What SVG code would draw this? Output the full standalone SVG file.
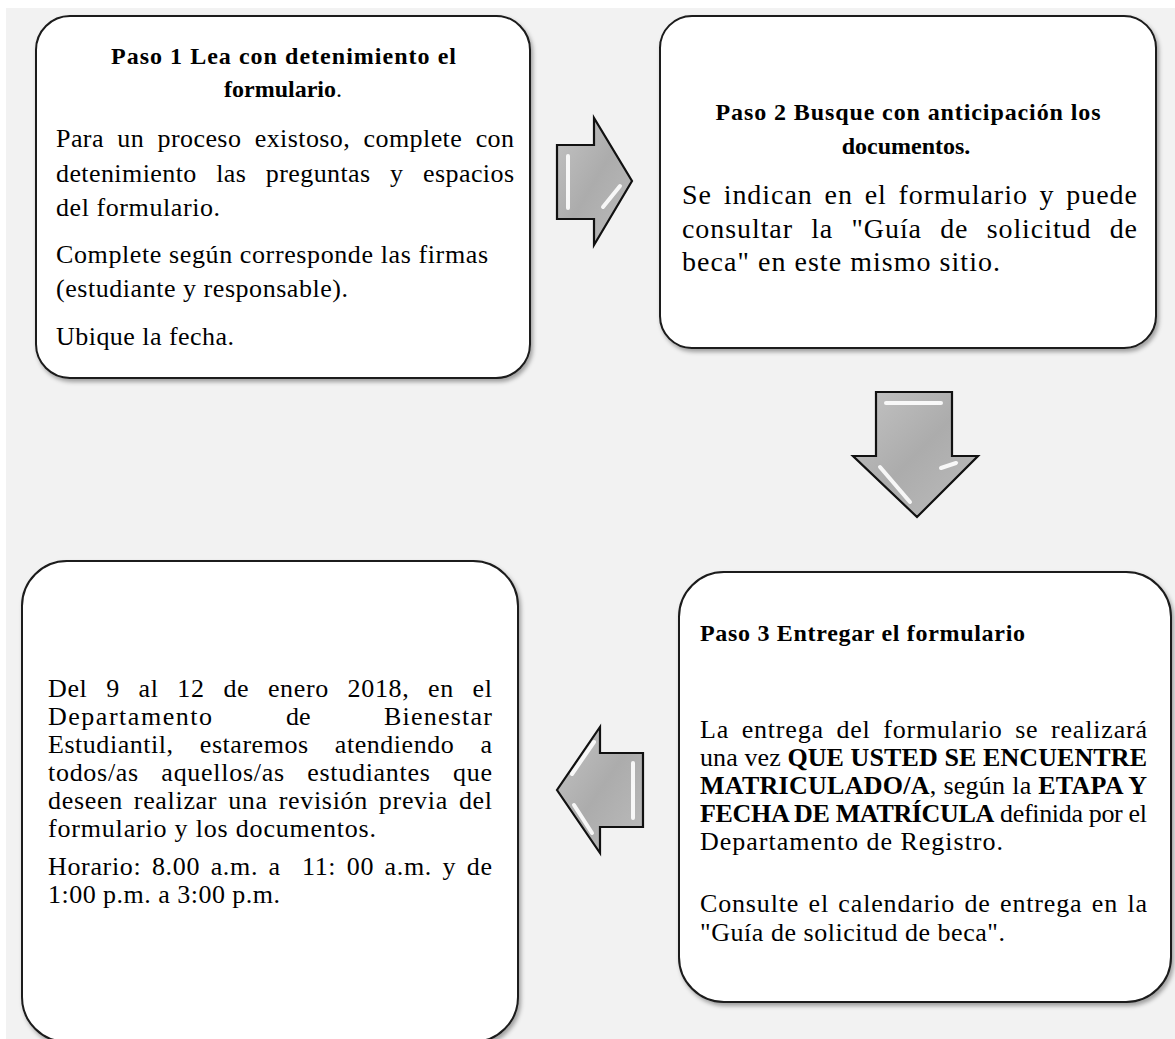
<svg xmlns="http://www.w3.org/2000/svg" width="1175" height="1039" viewBox="0 0 1175 1039">
<defs>
<filter id="sh" x="-5%" y="-5%" width="115%" height="115%">
<feDropShadow dx="2" dy="3" stdDeviation="2" flood-color="#000" flood-opacity="0.35"/>
</filter>
<linearGradient id="ag" x1="0" y1="0" x2="1" y2="1">
<stop offset="0" stop-color="#c4c4c4"/>
<stop offset="0.5" stop-color="#acacac"/>
<stop offset="1" stop-color="#bcbcbc"/>
</linearGradient>
<style>
.box{fill:#fff;stroke:#1a1a1a;stroke-width:2;filter:url(#sh)}
.arrow{fill:url(#ag);stroke:#111;stroke-width:2.2;stroke-linejoin:miter}
.hl{fill:none;stroke:#fff;stroke-width:4;stroke-linecap:round;opacity:0.9}
.t{font-family:"Liberation Serif","Times New Roman",serif;fill:#000}
.title{font-weight:bold;font-size:24px}
.b1{font-size:26px}
.b2{font-size:28px}
.b3{font-size:26px}
.bold{font-weight:bold}
</style>
</defs>
<rect x="6" y="8" width="1169" height="1031" fill="#f2f2f2"/>

<g id="connectors">
<g id="arrow-right">
<polygon class="arrow" points="557,145 594,145 594,118 632,181 594,245 594,219 557,219"/>
<line class="hl" x1="568" y1="156" x2="568" y2="208"/>
<line class="hl" x1="603" y1="207" x2="620" y2="186"/>
</g>
<g id="arrow-down">
<polygon class="arrow" points="876,392 952,392 952,456 978,456 917,517 853,456 876,456"/>
<line class="hl" x1="886" y1="403" x2="941" y2="403"/>
<line class="hl" x1="880" y1="467" x2="910" y2="502"/>
<line class="hl" x1="941" y1="468" x2="956" y2="463"/>
</g>
<g id="arrow-left">
<polygon class="arrow" points="643,753 643,827 600,827 600,853 557,790 600,727 600,753"/>
<line class="hl" x1="594" y1="742" x2="572" y2="774"/>
<line class="hl" x1="633" y1="763" x2="633" y2="818"/>
<line class="hl" x1="574" y1="805" x2="592" y2="833"/>
</g>
</g>

<g id="node-paso1">
<rect class="box" x="36" y="16" width="494" height="362" rx="34"/>
<text class="t title" x="283.5" y="64" text-anchor="middle" textLength="345" lengthAdjust="spacing">Paso 1 Lea con detenimiento el</text>
<text class="t title" x="283" y="97" text-anchor="middle">formulario<tspan font-weight="normal">.</tspan></text>
<text class="t b1" x="56" y="147" word-spacing="6.5" textLength="458" lengthAdjust="spacing">Para un proceso existoso, complete con</text>
<text class="t b1" x="56" y="182" word-spacing="12.6" textLength="458" lengthAdjust="spacing">detenimiento las preguntas y espacios</text>
<text class="t b1" x="56" y="216" textLength="164" lengthAdjust="spacing">del formulario.</text>
<text class="t b1" x="56" y="263" textLength="432" lengthAdjust="spacing">Complete según corresponde las firmas</text>
<text class="t b1" x="56" y="297" textLength="292" lengthAdjust="spacing">(estudiante y responsable).</text>
<text class="t b1" x="56" y="345" textLength="178" lengthAdjust="spacing">Ubique la fecha.</text>
</g>

<g id="node-paso2">
<rect class="box" x="660" y="16" width="496" height="332" rx="32"/>
<text class="t title" x="908" y="120" text-anchor="middle" textLength="385" lengthAdjust="spacing">Paso 2 Busque con anticipación los</text>
<text class="t title" x="906" y="154" text-anchor="middle">documentos.</text>
<text class="t b2" x="682" y="204" word-spacing="3.8" textLength="455" lengthAdjust="spacing">Se indican en el formulario y puede</text>
<text class="t b2" x="682" y="238" word-spacing="10.3" textLength="455" lengthAdjust="spacing">consultar la "Guía de solicitud de</text>
<text class="t b2" x="682" y="271" textLength="318" lengthAdjust="spacing">beca" en este mismo sitio.</text>
</g>

<g id="node-paso3">
<rect class="box" x="679" y="572" width="492" height="430" rx="45"/>
<text class="t title" x="700" y="641" textLength="325" lengthAdjust="spacing">Paso 3 Entregar el formulario</text>
<text class="t b3" x="700" y="738" word-spacing="5.3" textLength="447" lengthAdjust="spacing">La entrega del formulario se realizará</text>
<text class="t b3" x="700" y="766" textLength="447" lengthAdjust="spacing">una vez <tspan class="bold">QUE USTED SE ENCUENTRE</tspan></text>
<text class="t b3" x="700" y="794" textLength="447" lengthAdjust="spacing"><tspan class="bold">MATRICULADO/A</tspan>, según la <tspan class="bold">ETAPA Y</tspan></text>
<text class="t b3" x="700" y="822" textLength="447" lengthAdjust="spacing"><tspan class="bold">FECHA DE MATRÍCULA</tspan> definida por el</text>
<text class="t b3" x="700" y="850" textLength="303" lengthAdjust="spacing">Departamento de Registro.</text>
<text class="t b3" x="700" y="912" word-spacing="2" textLength="447" lengthAdjust="spacing">Consulte el calendario de entrega en la</text>
<text class="t b3" x="700" y="941" textLength="305" lengthAdjust="spacing">"Guía de solicitud de beca".</text>
</g>

<g id="node-revision">
<rect class="box" x="22" y="561" width="496" height="481" rx="45"/>
<text class="t b3" x="48" y="697" word-spacing="11.6" textLength="444" lengthAdjust="spacing">Del 9 al 12 de enero 2018, en el</text>
<text class="t b3" x="48" y="725" textLength="164" lengthAdjust="spacing">Departamento</text>
<text class="t b3" x="286" y="725">de</text>
<text class="t b3" x="492" y="725" text-anchor="end" textLength="108" lengthAdjust="spacing">Bienestar</text>
<text class="t b3" x="48" y="753" word-spacing="19.2" textLength="444" lengthAdjust="spacing">Estudiantil, estaremos atendiendo a</text>
<text class="t b3" x="48" y="781" word-spacing="15.2" textLength="444" lengthAdjust="spacing">todos/as aquellos/as estudiantes que</text>
<text class="t b3" x="48" y="809" word-spacing="3.8" textLength="444" lengthAdjust="spacing">deseen realizar una revisión previa del</text>
<text class="t b3" x="48" y="837" textLength="328" lengthAdjust="spacing">formulario y los documentos.</text>
<text class="t b3" x="48" y="875" word-spacing="3.4" textLength="444" lengthAdjust="spacing" xml:space="preserve">Horario: 8.00 a.m. a  11: 00 a.m. y de</text>
<text class="t b3" x="48" y="903" textLength="232" lengthAdjust="spacing">1:00 p.m. a 3:00 p.m.</text>
</g>
</svg>
